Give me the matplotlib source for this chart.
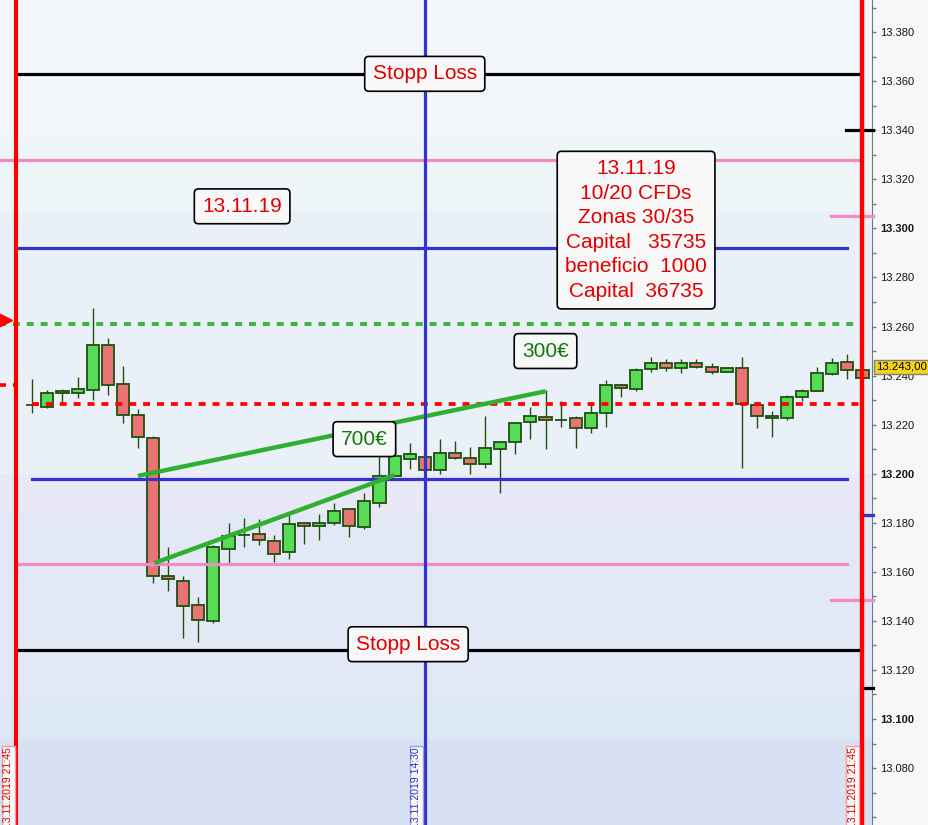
import numpy as np
import matplotlib
matplotlib.use('Agg')
import matplotlib.pyplot as plt
from matplotlib.ticker import FixedLocator, MultipleLocator
import matplotlib.transforms as mtransforms

# %% Data (15 min candles, index 0..55).
opens = [13227.9, 13227.3, 13232.8, 13232.8, 13234.0, 13252.3, 13236.4, 13223.8, 13214.4, 13158.1,
         13156.1, 13146.3, 13139.8, 13169.2, 13174.9, 13175.3, 13172.4, 13167.9, 13179.8, 13178.8,
         13179.8, 13185.5, 13178.1, 13187.9, 13199.2, 13206.1, 13206.9, 13201.4, 13208.3, 13206.2,
         13203.8, 13209.9, 13212.8, 13220.9, 13223.0, 13221.7, 13222.6, 13218.5, 13224.6, 13236.0,
         13234.4, 13242.5, 13245.0, 13242.9, 13245.0, 13243.7, 13241.3, 13242.9, 13227.9, 13223.4,
         13222.6, 13231.1, 13233.6, 13240.5, 13245.4, 13242.1]
closes = [13227.9, 13232.8, 13233.6, 13234.4, 13252.3, 13236.0, 13223.8, 13214.8, 13158.1, 13156.9,
          13145.9, 13140.2, 13170.0, 13174.6, 13174.9, 13172.8, 13167.1, 13179.3, 13178.8, 13179.8,
          13184.6, 13178.8, 13188.7, 13199.2, 13207.1, 13207.9, 13201.4, 13208.3, 13206.2, 13203.8,
          13210.3, 13212.8, 13220.5, 13223.4, 13221.7, 13221.7, 13218.5, 13224.6, 13236.0, 13234.8,
          13242.1, 13245.0, 13242.9, 13245.0, 13243.7, 13241.3, 13242.9, 13228.3, 13223.4, 13222.6,
          13231.1, 13233.6, 13240.9, 13245.0, 13242.1, 13238.9]
highs = [13238.6, 13234.1, 13234.5, 13239.3, 13267.4, 13255.2, 13243.9, 13226.4, 13215.3, 13170.0,
         13158.5, 13149.7, 13170.9, 13179.8, 13181.9, 13181.5, 13175.0, 13184.2, 13179.8, 13183.5,
         13188.0, 13185.5, 13192.1, 13207.6, 13209.9, 13212.4, 13208.8, 13214.1, 13213.2, 13210.9,
         13223.4, 13213.2, 13220.9, 13227.0, 13234.0, 13229.5, 13223.4, 13229.1, 13238.4, 13236.4,
         13243.1, 13247.4, 13246.6, 13246.6, 13246.6, 13245.0, 13243.7, 13247.4, 13228.3, 13225.4,
         13231.9, 13234.4, 13243.4, 13247.0, 13248.7, 13243.0]
lows = [13224.8, 13226.9, 13228.7, 13231.0, 13230.1, 13232.2, 13220.8, 13210.6, 13155.5, 13152.3,
        13133.1, 13131.2, 13139.2, 13163.7, 13170.2, 13171.0, 13164.1, 13165.1, 13171.4, 13173.1,
        13179.0, 13174.3, 13177.3, 13186.5, 13199.2, 13201.8, 13200.7, 13199.7, 13205.8, 13199.7,
        13202.2, 13192.2, 13207.9, 13214.0, 13209.9, 13219.1, 13210.6, 13216.4, 13218.9, 13231.1,
        13233.6, 13241.3, 13242.0, 13240.9, 13242.9, 13240.5, 13241.3, 13202.2, 13218.5, 13215.0,
        13221.7, 13229.5, 13233.6, 13240.1, 13238.5, 13238.4]

# Horizontal levels: (price, x start, x end, colour, style)
stop_top = 13363.0
stop_bot = 13128.0
levels = [
    (stop_top, -1.1, 54.8, 'black', 'solid'),
    (13328.0, -2.2, 54.8, '#f589c6', 'solid'),
    (13292.0, -1.1, 54.0, '#3434cc', 'solid'),
    (13261.0, -2.2, 54.8, '#3cb43c', 'dotted'),
    (13228.4, 0.0, 55.0, '#ff0000', 'dashed'),
    (13198.0, 0.0, 54.0, '#3434cc', 'solid'),
    (13163.0, -1.1, 54.0, '#f589c6', 'solid'),
    (stop_bot, -1.1, 54.8, 'black', 'solid'),
]
# Short markers at the price axis.
markers = [
    (13340.0, 53.9, 'black'),
    (13305.0, 52.9, '#f589c6'),
    (13183.0, 54.9, '#3434cc'),
    (13148.5, 52.9, '#f589c6'),
    (13112.5, 54.9, 'black'),
]
# Trend lines.
trend_x = [[7.0, 34.0], [8.1, 24.0]]
trend_y = [[13199.1, 13233.6], [13163.6, 13199.4]]

# Background bands (price from, price to, colour).
bands = [(13336, 13400, '#f2f5fa'), (13307, 13336, '#eef5f6'), (13200, 13307, '#e9f0f8'),
         (13184, 13200, '#e9e8f6'), (13108, 13184, '#e2e8f6'), (13092, 13108, '#dde8f5'),
         (13050, 13092, '#d8e0f4')]

big_text = '13.11.19\n10/20 CFDs\nZonas 30/35\nCapital   35735\nbeneficio  1000\nCapital  36735'

# %% Figure.
plt.rcParams['font.family'] = ['Liberation Sans', 'DejaVu Sans']
plt.rcParams['lines.scale_dashes'] = False

fig = plt.figure(figsize=(9.29, 8.25), dpi=100, facecolor='#f7f7f7')
ax = fig.add_axes([0, 0, 872 / 929, 1])
ax.set_xlim(-2.14, 55.63)
ax.set_ylim(13056.8, 13393.1)

for y0, y1, col in bands:
    ax.axhspan(y0, y1, color=col, zorder=0, lw=0)

# Candles:
x = np.arange(len(opens))
o = np.array(opens)
c = np.array(closes)
up = c >= o
ax.vlines(x, lows, highs, color='#24500f', lw=1.0, zorder=2)
ax.bar(x[up], (c - o)[up], bottom=o[up], width=0.8, color='#58dc58',
       edgecolor='#1e5010', lw=1.3, zorder=3)
ax.bar(x[~up], (c - o)[~up], bottom=o[~up], width=0.8, color='#ea7474',
       edgecolor='#1e5010', lw=1.3, zorder=3)

# Levels:
for yv, xa, xb, col, st in levels:
    if st == 'dotted':
        ax.plot([xa, xb], [yv, yv], color=col, lw=2.8, dashes=(5, 5), zorder=4)
    elif st == 'dashed':
        ax.plot([xa, xb], [yv, yv], color=col, lw=2.7, dashes=(5, 5), zorder=4)
    else:
        ax.plot([xa, xb], [yv, yv], color=col, lw=2.3, zorder=4)
for yv, xa, col in markers:
    ax.plot([xa, 55.7], [yv, yv], color=col, lw=2.3, zorder=6, clip_on=False)

# Left edge bits:
ax.plot([-2.2, -1.15], [13236.0, 13236.0], color='red', lw=2.6, dashes=(5, 5), zorder=4)
ax.plot([-1.9], [13262.5], marker='>', color='red', ms=12, zorder=6)

# Trend lines:
for tx, ty in zip(trend_x, trend_y):
    ax.plot(tx, ty, color='#30b030', lw=3.2, solid_capstyle='butt', zorder=5)

# Vertical lines:
ax.axvline(-1.06, color='red', lw=3.0, zorder=6)
ax.axvline(26.0, color='#3434cc', lw=2.3, zorder=6)
ax.axvline(55.0, color='red', lw=3.2, zorder=6)

# Labels:
box = dict(boxstyle='round,pad=0.38,rounding_size=0.2', fc='#f8f8f8', ec='black', lw=1.2)
ax.text(26.0, stop_top, 'Stopp Loss', color='#e00000', fontsize=15, ha='center', va='center',
        bbox=box, zorder=8)
ax.text(24.9, 13130.5, 'Stopp Loss', color='#e00000', fontsize=15, ha='center', va='center',
        bbox=box, zorder=8)
ax.text(13.9, 13309.0, '13.11.19', color='#e00000', fontsize=15, ha='center', va='center',
        bbox=box, zorder=8)
ax.text(40.0, 13299.3, big_text, color='#e00000', fontsize=15, ha='center', va='center',
        multialignment='center', linespacing=1.37, bbox=box, zorder=8)
ax.text(34.0, 13250.0, '300€', color='#107a10', fontsize=15, ha='center', va='center',
        bbox=box, zorder=8)
ax.text(22.0, 13214.1, '700€', color='#107a10', fontsize=15, ha='center', va='center',
        bbox=box, zorder=8)

# Time labels at the bottom (cut by the lower edge, as on the screen):
for xv, txt, col, ec in [(-1.6, '13.11.2019 21:45', '#e00000', '#f0a0a0'),
                         (25.45, '13.11.2019 14:30', '#3030c0', '#a0a0e0'),
                         (54.35, '13.11.2019 21:45', '#e00000', '#f0a0a0')]:
    ax.text(xv, 13088.5, txt, color=col, fontsize=7.5, rotation=90, ha='center', va='top',
            bbox=dict(boxstyle='square,pad=0.15', fc='#f8f8f8', ec=ec, lw=1), zorder=7)

# Price axis:
for s in ['left', 'top', 'bottom']:
    ax.spines[s].set_visible(False)
ax.spines['right'].set_color('#6a7a88')
ax.set_xticks([])
ax.yaxis.tick_right()
ticks = np.arange(13080, 13400, 20)
ax.yaxis.set_major_locator(FixedLocator(ticks))
ax.yaxis.set_minor_locator(MultipleLocator(10))
ax.tick_params(axis='y', which='both', direction='out', length=2.6, width=1,
               color='#6a7a88', pad=3, labelsize=8, labelcolor='#151515')
ax.set_yticklabels(['{:.3f}'.format(t / 1000) for t in ticks])
for t, lab in zip(ticks, ax.get_yticklabels()):
    if t % 100 == 0:
        lab.set_fontweight('bold')

# Current price label:
trans = mtransforms.blended_transform_factory(ax.transAxes, ax.transData)
ax.text(1.005, 13243.5, '13.243,00', transform=trans, fontsize=8.2, ha='left', va='center',
        color='black', bbox=dict(boxstyle='square,pad=0.2', fc='#f8d418', ec='#808080', lw=1),
        zorder=9, clip_on=False)

fig.savefig('out.png', dpi=100, facecolor=fig.get_facecolor())
